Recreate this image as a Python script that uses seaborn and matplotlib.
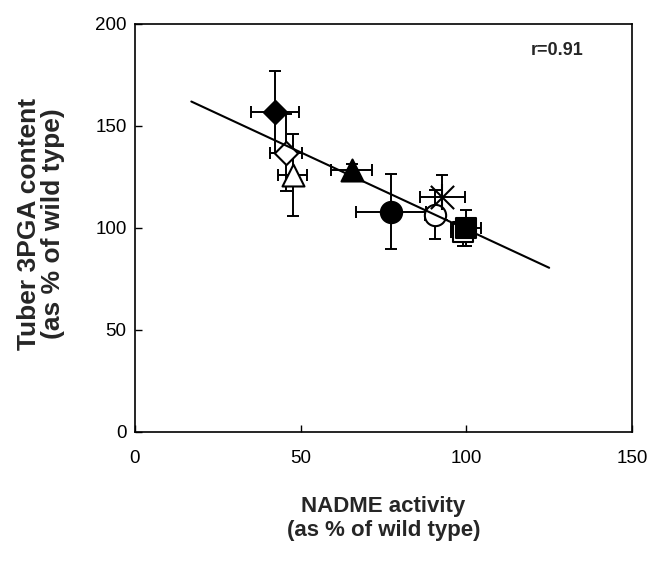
import matplotlib
matplotlib.use("Agg")
import matplotlib.pyplot as plt
import seaborn as sns
import numpy as np

# ---- data ----
nadme = [42.3, 45.6, 47.6, 65.4, 77.2, 90.4, 92.8, 99.0, 100.0]
pga = [157.0, 137.0, 126.0, 128.5, 108.0, 106.5, 115.0, 98.0, 100.0]
nadme_err = [7.3, 4.9, 4.4, 6.2, 10.6, 3.0, 6.9, 3.5, 4.5]
pga_err = [20.0, 19.0, 20.0, 3.0, 18.5, 12.0, 11.0, 7.0, 9.0]
markers = ["D", "D", "^", "^", "o", "o", "asterisk", "s", "s"]
filled = [True, False, False, True, True, False, True, False, True]

fit_x = [17.0, 125.0]
fit_y = [162.0, 80.5]

x_ticks = [0, 50, 100, 150]
y_ticks = [0, 50, 100, 150, 200]
r_label = "r=0.91"

sns.set_style("ticks", {"xtick.direction": "in", "ytick.direction": "in"})
plt.rcParams["font.family"] = ["Liberation Sans", "DejaVu Sans"]

W, H = 653, 567
fig = plt.figure(figsize=(W / 100, H / 100), dpi=100)
ax = fig.add_axes([135 / W, 1 - 432 / H, 497 / W, 408 / H])

ax.errorbar(nadme, pga, xerr=nadme_err, yerr=pga_err, fmt="none",
            ecolor="black", elinewidth=1.4, capsize=4.5, capthick=1.4, zorder=2)

sizes = {"D": 140, "^": 250, "o": 235, "s": 190}
for xi, yi, m, f in zip(nadme, pga, markers, filled):
    if m == "asterisk":
        sns.scatterplot(x=[xi], y=[yi], marker="x", s=280, color="black",
                        linewidth=1.5, ax=ax, zorder=3)
        sns.scatterplot(x=[xi], y=[yi], marker="|", s=330, color="black",
                        linewidth=1.5, ax=ax, zorder=3)
    else:
        sns.scatterplot(x=[xi], y=[yi], marker=m, s=sizes[m],
                        color="black" if f else "white", edgecolor="black",
                        linewidth=1.5, ax=ax, zorder=3)

sns.lineplot(x=fit_x, y=fit_y, color="black", linewidth=1.5, ax=ax, zorder=4)

ax.set_xlim(0, 150)
ax.set_ylim(0, 200)
ax.set_xticks(x_ticks)
ax.set_yticks(y_ticks)
ax.tick_params(axis="both", direction="in", length=5, width=1.0,
               labelsize=13.5, colors="black")
ax.tick_params(axis="x", pad=13)
ax.tick_params(axis="y", pad=6)
for s in ax.spines.values():
    s.set_visible(True)
    s.set_linewidth(1.2)
    s.set_color("black")

ax.set_xlabel("NADME activity\n(as % of wild type)", fontsize=16,
              fontweight="bold", linespacing=1.2)
ax.xaxis.label.set_va("center")
ax.xaxis.set_label_coords(0.5, -0.212)
ax.set_ylabel("Tuber 3PGA content\n(as % of wild type)", fontsize=19,
              fontweight="bold", linespacing=1.0)
ax.yaxis.label.set_va("center")
ax.yaxis.set_label_coords(-0.19, 0.51)

ax.text(0.85, 0.935, r_label, transform=ax.transAxes, ha="center", va="center",
        fontsize=13, fontweight="bold")

fig.savefig("out.png", dpi=100)
